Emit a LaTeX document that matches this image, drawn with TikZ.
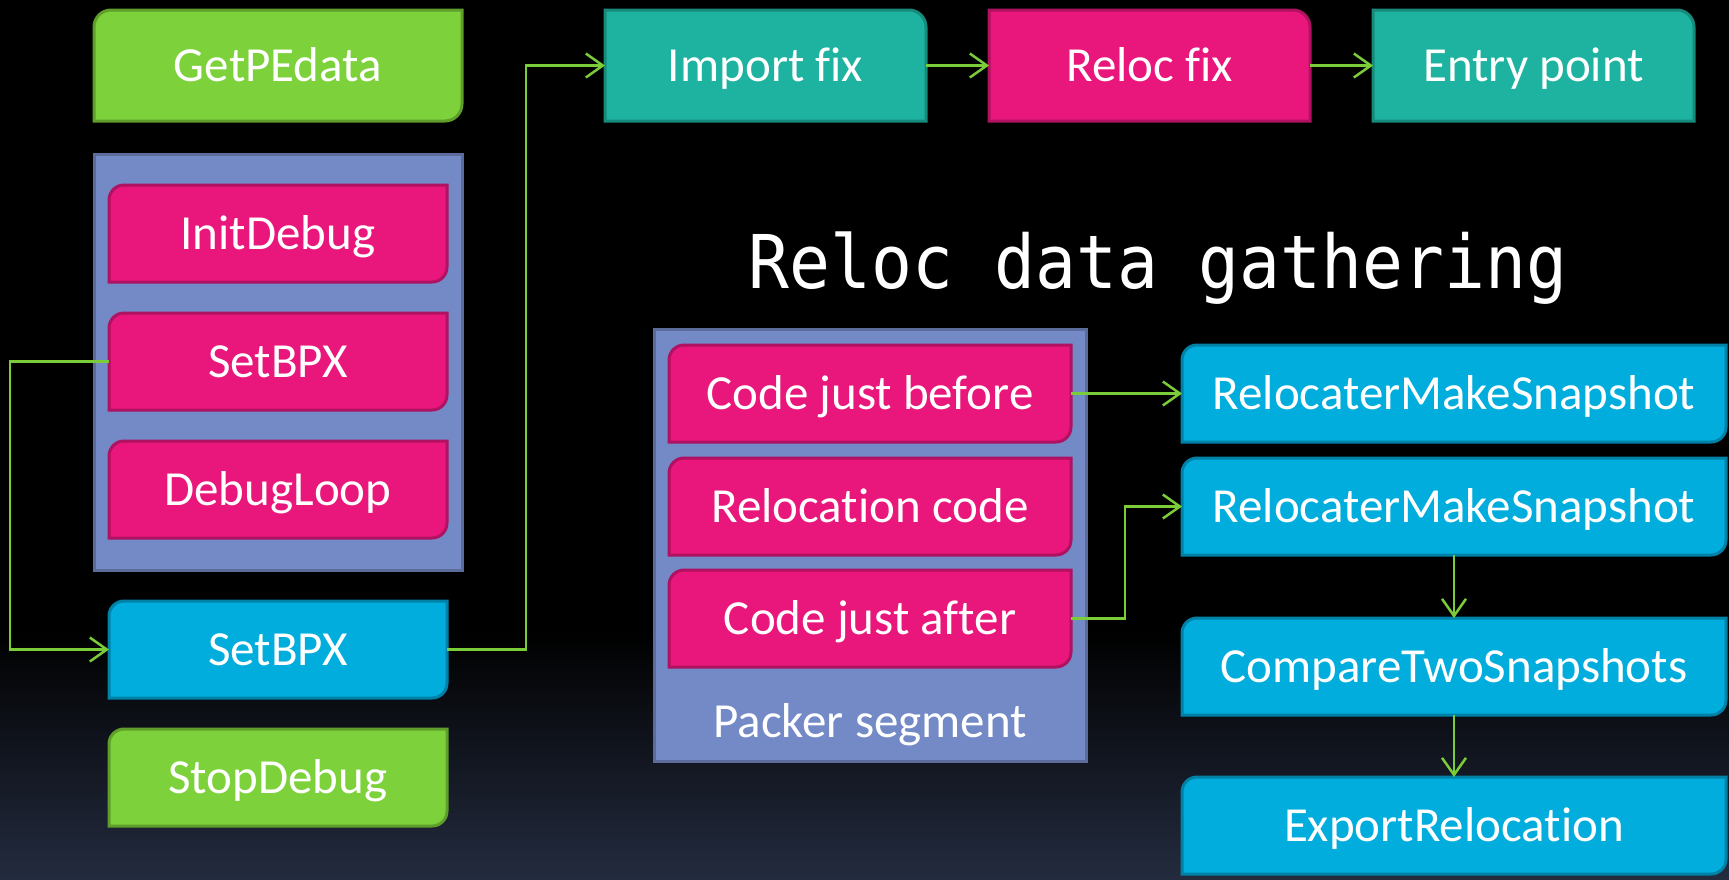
\documentclass[tikz,border=0pt]{standalone}
\usepackage{fontspec}
\usetikzlibrary{arrows.meta}
\newfontfamily\boxfont{Carlito}[Ligatures=NoCommon]
\newfontfamily\titlefont{DejaVu Sans Mono}

% colours
\definecolor{cGreen}{HTML}{7DD23B}
\definecolor{cGreenLine}{HTML}{5F9E2B}
\definecolor{cPink}{HTML}{E9177B}
\definecolor{cPinkLine}{HTML}{AE1260}
\definecolor{cTeal}{HTML}{1DB3A0}
\definecolor{cTealLine}{HTML}{178A7B}
\definecolor{cCyan}{HTML}{00ADDC}
\definecolor{cCyanLine}{HTML}{0082A8}
\definecolor{cGroup}{HTML}{738AC7}
\definecolor{cGroupLine}{HTML}{5B6B9C}
\definecolor{cArrow}{HTML}{7ACC38}
\definecolor{cBgBottom}{HTML}{232B3E}

\pgfdeclarelayer{backdrop}
\pgfdeclarelayer{groups}
\pgfdeclarelayer{boxlayer}
\pgfsetlayers{backdrop,groups,boxlayer,main}

% box outline with rounded top-left and bottom-right corners
\newcommand\rdshape[4]{%
  \begin{pgfonlayer}{boxlayer}
    \path[fill=#2, draw=#3, line width=3pt]
      (#1.south west) -- ([yshift=-#4]#1.north west)
      arc[start angle=180, end angle=90, radius=#4]
      -- (#1.north east) -- ([yshift=#4]#1.south east)
      arc[start angle=0, end angle=-90, radius=#4] -- cycle;
  \end{pgfonlayer}}

% box outline with a rounded top-right corner only
\newcommand\trshape[4]{%
  \begin{pgfonlayer}{boxlayer}
    \path[fill=#2, draw=#3, line width=3pt]
      (#1.south west) -- (#1.north west)
      -- ([xshift=-#4]#1.north east)
      arc[start angle=90, end angle=0, radius=#4]
      -- (#1.south east) -- cycle;
  \end{pgfonlayer}}

\begin{document}
\begin{tikzpicture}[x=1pt, y=-1pt,
  lbl/.style={inner sep=0pt, outer sep=0pt, text=white,
    font=\boxfont\fontsize{49pt}{55pt}\selectfont,
    text height=31.5pt, text depth=0pt},
  box/.style={lbl, rectangle, minimum height=97pt},
  tallbox/.style={lbl, rectangle, minimum height=111pt},
  group/.style={rectangle, inner sep=0pt, outer sep=0pt,
    fill=cGroup, draw=cGroupLine, line width=3pt},
  arr/.style={draw=cArrow, line width=2.5pt,
    -{Straight Barb[length=17pt, width=24pt]}}]

\useasboundingbox (0,0) rectangle (1729,879);

% backdrop
\begin{pgfonlayer}{backdrop}
  \fill[black] (0,0) rectangle (1729,879);
  \shade[top color=black, bottom color=cBgBottom] (0,630) rectangle (1729,879);
\end{pgfonlayer}

% group frames
\begin{pgfonlayer}{groups}
  \node[group, minimum width=368pt, minimum height=416pt] (dbggrp) at (278,362) {};
  \node[group, minimum width=432pt, minimum height=432pt] (packer) at (870,545) {};
\end{pgfonlayer}

% left column
\node[tallbox, minimum width=368pt] (getpe) at (278,65.5) {GetPEdata};
\node[box, minimum width=338pt] (initdbg) at (278,233.5) {InitDebug};
\node[box, minimum width=338pt] (setbpxa) at (278,361.5) {SetBPX};
\node[box, minimum width=338pt] (dbgloop) at (278,489.5) {DebugLoop};
\node[box, minimum width=338pt] (setbpxb) at (278,649.5) {SetBPX};
\node[box, minimum width=338pt] (stopdbg) at (278,777.5) {StopDebug};

% top row
\node[tallbox, minimum width=321pt] (imp) at (765.5,65.5) {Import fix};
\node[tallbox, minimum width=321pt] (reloc) at (1149.5,65.5) {Reloc fix};
\node[tallbox, minimum width=321pt] (entry) at (1533.5,65.5) {Entry point};

% title
\node[inner sep=0pt, anchor=base, text=white,
  font=\titlefont\fontsize{68pt}{80pt}\selectfont] (title) at (1158,288)
  {\scalebox{1}[1.09]{Reloc data gathering}};

% packer segment
\node[box, minimum width=402pt] (cjb) at (870,393.5) {Code just before};
\node[box, minimum width=402pt] (relcode) at (870,506.5) {Relocation code};
\node[box, minimum width=402pt] (cja) at (870,618.5) {Code just after};
\node[lbl] (packlbl) at (870,722) {Packer segment};

% right column
\node[box, minimum width=544pt] (rms1) at (1454,393.5) {RelocaterMakeSnapshot};
\node[box, minimum width=544pt] (rms2) at (1454,506.5) {RelocaterMakeSnapshot};
\node[box, minimum width=544pt] (cmp) at (1454,666.5) {CompareTwoSnapshots};
\node[box, minimum width=544pt] (export) at (1454,825.5) {ExportRelocation};

% box outlines
\rdshape{getpe}{cGreen}{cGreenLine}{17pt}
\rdshape{initdbg}{cPink}{cPinkLine}{15pt}
\rdshape{setbpxa}{cPink}{cPinkLine}{15pt}
\rdshape{dbgloop}{cPink}{cPinkLine}{15pt}
\rdshape{setbpxb}{cCyan}{cCyanLine}{15pt}
\rdshape{stopdbg}{cGreen}{cGreenLine}{15pt}
\trshape{imp}{cTeal}{cTealLine}{17pt}
\trshape{reloc}{cPink}{cPinkLine}{17pt}
\trshape{entry}{cTeal}{cTealLine}{17pt}
\rdshape{cjb}{cPink}{cPinkLine}{15pt}
\rdshape{relcode}{cPink}{cPinkLine}{15pt}
\rdshape{cja}{cPink}{cPinkLine}{15pt}
\rdshape{rms1}{cCyan}{cCyanLine}{15pt}
\rdshape{rms2}{cCyan}{cCyanLine}{15pt}
\rdshape{cmp}{cCyan}{cCyanLine}{15pt}
\rdshape{export}{cCyan}{cCyanLine}{15pt}

% connectors
\draw[arr] (setbpxa.west) -- ++(-99,0) |- (setbpxb.west);
\draw[arr] (setbpxb.east) -- ++(79,0) |- (imp.west);
\draw[arr] (imp.east) -- (reloc.west);
\draw[arr] (reloc.east) -- (entry.west);
\draw[arr] (cjb.east) -- (rms1.west);
\draw[arr] (cja.east) -- ++(54,0) |- (rms2.west);
\draw[arr] (rms2.south) -- (cmp.north);
\draw[arr] (cmp.south) -- (export.north);

\end{tikzpicture}
\end{document}
